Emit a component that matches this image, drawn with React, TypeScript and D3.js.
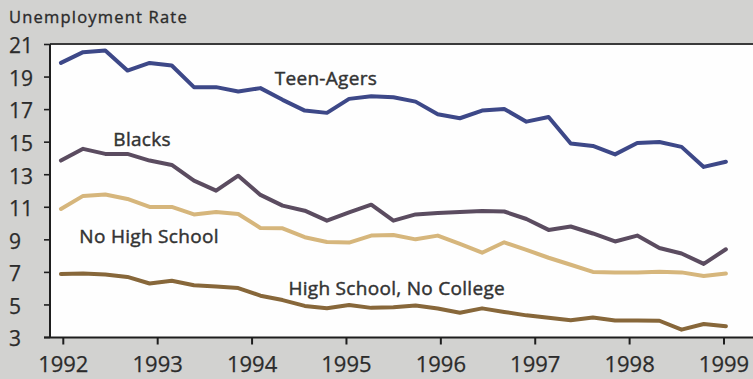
import React from "react";
import * as d3 from "d3";

// Unemployment rate (%), periodic readings from early 1992 to early 1999
const teenAgers = [19.87, 20.53, 20.63, 19.4, 19.87, 19.71, 18.38, 18.38, 18.11, 18.32, 17.6, 16.94, 16.8, 17.66, 17.82, 17.76, 17.49, 16.71, 16.47, 16.94, 17.04, 16.26, 16.55, 14.92, 14.77, 14.25, 14.95, 15.01, 14.71, 13.48, 13.8];
const blacks = [13.87, 14.59, 14.28, 14.28, 13.87, 13.6, 12.64, 12.02, 12.94, 11.76, 11.1, 10.79, 10.18, 10.69, 11.16, 10.18, 10.56, 10.65, 10.71, 10.77, 10.74, 10.28, 9.61, 9.82, 9.39, 8.9, 9.26, 8.5, 8.16, 7.52, 8.42];
const noHighSchool = [10.9, 11.7, 11.79, 11.51, 11.02, 11.02, 10.56, 10.71, 10.59, 9.73, 9.71, 9.16, 8.87, 8.83, 9.26, 9.3, 9.03, 9.26, 8.75, 8.21, 8.85, 8.38, 7.9, 7.47, 7.03, 7.0, 7.0, 7.04, 7.0, 6.78, 6.93];
const highSchoolNoCollege = [6.9, 6.93, 6.87, 6.72, 6.32, 6.49, 6.21, 6.13, 6.04, 5.57, 5.3, 4.94, 4.8, 5.0, 4.82, 4.86, 4.97, 4.78, 4.52, 4.79, 4.57, 4.36, 4.21, 4.06, 4.23, 4.04, 4.04, 4.03, 3.48, 3.83, 3.69];

const seriesNames = ["Teen-Agers", "Blacks", "No High School", "High School, No College"];
const seriesColors = ["#3d4888", "#5b4c60", "#d6b67c", "#87673a"];
const yearTicks = [1992, 1993, 1994, 1995, 1996, 1997, 1998, 1999];
const rateTicks = [3, 5, 7, 9, 11, 13, 15, 17, 19, 21];
const firstReading = 1991.975;
const lastReading = 1999.02;

const W = 753;
const H = 379;
const plotLeft = 50;
const plotTop = 44;
const plotBottom = 337.5;

const FONT = "'Open Sans', 'Noto Sans', sans-serif";
const TEXT = "#2b2b2b";

export default function App() {
  const x = d3.scaleLinear().domain([1992, 1999]).range([63.3, 724]);
  const y = d3.scaleLinear().domain([3, 21]).range([337.5, 44.5]);
  const idx = d3
    .scaleLinear()
    .domain([0, teenAgers.length - 1])
    .range([x(firstReading), x(lastReading)]);

  const line = d3
    .line<number>()
    .x((_, i) => idx(i))
    .y((v) => y(v))
    .curve(d3.curveLinear);

  const allSeries = [teenAgers, blacks, noHighSchool, highSchoolNoCollege];

  // label anchor points (left x, baseline y) in data units
  const labelSpots: [number, number][] = [
    [1994.24, 18.51],
    [1992.53, 14.77],
    [1992.17, 8.79],
    [1994.385, 5.61],
  ];

  // a hairline outline in the text colour gives a medium weight
  const medium = (c: string, w = 0.35) => ({ stroke: c, strokeWidth: w });

  return (
    <svg
      width={W}
      height={H}
      style={{ position: "fixed", left: 0, top: 0, display: "block" }}
      fontFamily={FONT}
    >
      <rect x={0} y={0} width={W} height={H} fill="#d2d2d0" />
      <rect x={plotLeft} y={plotTop} width={W - plotLeft} height={plotBottom - plotTop} fill="#fefefe" />

      {/* frame */}
      <line x1={plotLeft} x2={W} y1={plotTop} y2={plotTop} stroke="#3a3a3a" strokeWidth={2} />
      <line x1={plotLeft} x2={plotLeft} y1={plotTop} y2={plotBottom} stroke="#1e1e1e" strokeWidth={2} />
      <line x1={44} x2={W} y1={plotBottom} y2={plotBottom} stroke="#1e1e1e" strokeWidth={2} />

      {/* y axis */}
      {rateTicks.map((t) => (
        <g key={t}>
          <line x1={44} x2={plotLeft} y1={y(t)} y2={y(t)} stroke="#1e1e1e" strokeWidth={1.6} />
          <text x={9} y={y(t)} dy="0.42em" fontSize={21} fill={TEXT} textAnchor="start" {...medium(TEXT, 0.25)}>
            {t}
          </text>
        </g>
      ))}

      {/* x axis */}
      {yearTicks.map((t) => (
        <g key={t}>
          <line x1={x(t)} x2={x(t)} y1={plotBottom} y2={plotBottom + 7} stroke="#1e1e1e" strokeWidth={2} />
          <text x={x(t)} y={371.5} fontSize={22} fill={TEXT} textAnchor="middle" {...medium(TEXT, 0.25)}>
            {t}
          </text>
        </g>
      ))}

      <text x={9} y={23.3} fontSize={16.5} fill={TEXT} letterSpacing={1.2} {...medium(TEXT, 0.35)}>
        Unemployment Rate
      </text>

      {/* series */}
      {allSeries.map((s, k) => (
        <path
          key={seriesNames[k]}
          d={line(s) ?? ""}
          fill="none"
          stroke={seriesColors[k]}
          strokeWidth={4}
          strokeLinejoin="round"
          strokeLinecap="round"
        />
      ))}

      {seriesNames.map((name, k) => (
        <text
          key={name}
          x={x(labelSpots[k][0])}
          y={y(labelSpots[k][1])}
          fontSize={19}
          letterSpacing={0.3}
          fill="#333"
          {...medium("#333", 0.45)}
        >
          {name}
        </text>
      ))}
    </svg>
  );
}
